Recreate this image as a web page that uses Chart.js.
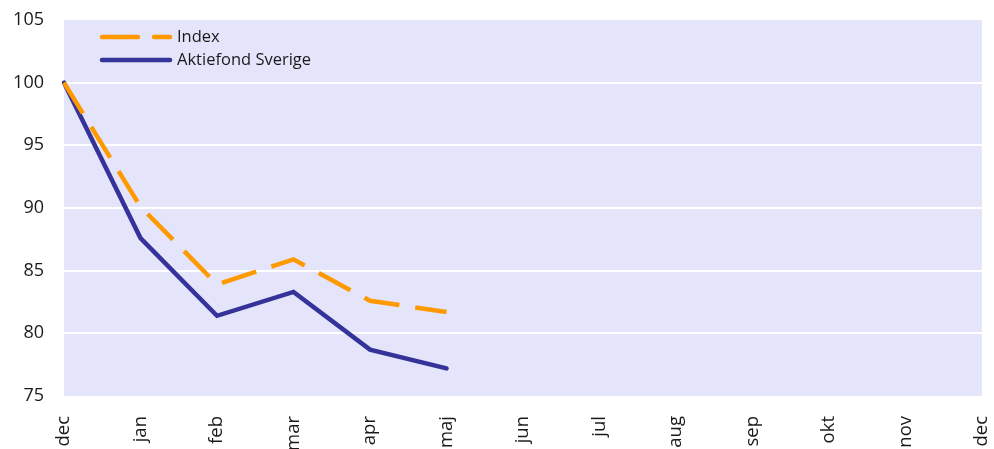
<!DOCTYPE html>
<html>
<head>
<meta charset="utf-8">
<script src="https://cdn.jsdelivr.net/npm/chart.js@4"></script>
<style>
  html, body { margin: 0; padding: 0; background: #ffffff; }
  #myChart { display: block; }
</style>
</head>
<body>
<canvas id="myChart" width="994" height="449"></canvas>
<script>
const months = ['dec', 'jan', 'feb', 'mar', 'apr', 'maj', 'jun', 'jul', 'aug', 'sep', 'okt', 'nov', 'dec'];
const indexValues = [100, 90.1, 83.9, 85.9, 82.6, 81.7, null, null, null, null, null, null, null];
const fondValues = [100, 87.6, 81.4, 83.3, 78.7, 77.2, null, null, null, null, null, null, null];
const yTicks = [75, 80, 85, 90, 95, 100, 105];

const plotBg = {
    id: 'plotBg',
    beforeDraw(chart) {
        const a = chart.chartArea;
        const c = chart.ctx;
        c.save();
        c.fillStyle = '#E4E4FB';
        c.fillRect(a.left, a.top, a.right - a.left, a.bottom - a.top);
        c.restore();
    }
};

// legend drawn inside the plot, top left
const innerLegend = {
    id: 'innerLegend',
    afterDraw(chart) {
        const c = chart.ctx;
        const x0 = 102, x1 = 170, tx = 177;
        const rows = [37, 60];
        c.save();
        chart.data.datasets.forEach((ds, i) => {
            const y = rows[i];
            c.beginPath();
            c.strokeStyle = ds.borderColor;
            c.lineWidth = ds.borderWidth;
            c.lineCap = 'round';
            c.setLineDash(ds.borderDash || []);
            c.moveTo(x0, y);
            c.lineTo(x1, y);
            c.stroke();
            c.setLineDash([]);
            c.fillStyle = '#1a1a1a';
            c.font = '16.5px "Open Sans"';
            c.textBaseline = 'middle';
            c.fillText(ds.label, tx, y);
        });
        c.restore();
    }
};

const ctx = document.getElementById('myChart').getContext('2d');
let myChart = new Chart(ctx, {
    type: 'line',
    data: {
        labels: months,
        datasets: [{
            label: 'Index',
            data: indexValues,
            borderColor: '#FF9900',
            borderWidth: 4.5,
            borderDash: [36, 16],
            borderCapStyle: 'butt',
            pointRadius: 0,
            tension: 0,
            spanGaps: false
        }, {
            label: 'Aktiefond Sverige',
            data: fondValues,
            borderColor: '#353399',
            borderWidth: 4.5,
            borderCapStyle: 'round',
            pointRadius: 0,
            tension: 0,
            spanGaps: false
        }]
    },
    options: {
        responsive: false,
        animation: false,
        devicePixelRatio: 1,
        layout: { padding: { top: 20, right: 12, left: 0, bottom: 0 } },
        plugins: {
            legend: { display: false },
            tooltip: { enabled: false }
        },
        scales: {
            x: {
                offset: false,
                grid: { display: false, drawTicks: false },
                border: { display: false },
                ticks: {
                    maxRotation: 90,
                    minRotation: 90,
                    autoSkip: false,
                    padding: 20,
                    color: '#1a1a1a',
                    font: { family: 'Open Sans', size: 18.5 }
                },
                afterFit(scale) {
                    scale.height = 53;
                    scale.paddingLeft = 0;
                    scale.paddingRight = 0;
                }
            },
            y: {
                min: 75,
                max: 105,
                afterBuildTicks(scale) { scale.ticks = yTicks.map(v => ({ value: v })); },
                grid: {
                    drawTicks: false,
                    lineWidth: 2,
                    color: (c) => (c.tick && (c.tick.value === 75 || c.tick.value === 105)) ? 'rgba(0,0,0,0)' : '#ffffff'
                },
                border: { display: false },
                ticks: {
                    autoSkip: false,
                    padding: 20,
                    color: '#1a1a1a',
                    font: { family: 'Open Sans', size: 18 }
                },
                afterFit(scale) {
                    scale.width = 64;
                    scale.paddingTop = 0;
                    scale.paddingBottom = 0;
                }
            }
        }
    },
    plugins: [plotBg, innerLegend]
});
</script>
</body>
</html>
